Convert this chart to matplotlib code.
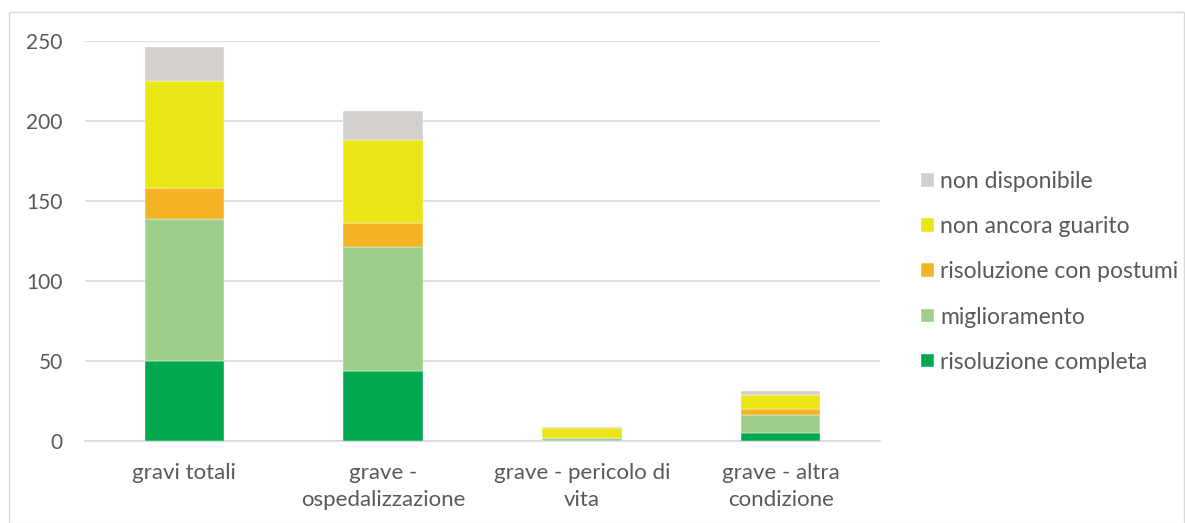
import matplotlib.pyplot as plt
from matplotlib.patches import Rectangle
import numpy as np

categories = ["gravi totali", "grave -\nospedalizzazione", "grave - pericolo di\nvita", "grave - altra\ncondizione"]
series_names = ["risoluzione completa", "miglioramento", "risoluzione con postumi", "non ancora guarito", "non disponibile"]
risoluzione_completa = [50, 44, 0, 5]
miglioramento = [89, 77, 2, 11]
risoluzione_postumi = [19, 15, 0, 4]
non_ancora_guarito = [67, 52, 6, 9]
non_disponibile = [21, 18, 1, 2]
colors = ["#00a84f", "#9bcf8a", "#f4b425", "#ece515", "#d3cfcd"]

plt.rcParams['font.family'] = ['Lato', 'DejaVu Sans']

fig = plt.figure(figsize=(11.85, 5.23), dpi=100)
ax = fig.add_axes([85 / 1185, 82 / 523, 795 / 1185, 400 / 523])

x = np.arange(len(categories))
bottom = np.zeros(len(categories))
handles = []
for name, vals, c in zip(series_names,
                         [risoluzione_completa, miglioramento, risoluzione_postumi,
                          non_ancora_guarito, non_disponibile], colors):
    b = ax.bar(x, vals, 0.4, bottom=bottom, color=c, label=name,
               edgecolor="white", linewidth=0.3, zorder=3)
    bottom += np.array(vals)
    handles.append(b)

ax.set_xlim(-0.5, 3.5)
ax.set_ylim(0, 250)
ax.set_yticks([0, 50, 100, 150, 200, 250])
ax.yaxis.grid(True, color="#d9d9d9", linewidth=1.2, zorder=0)
ax.set_axisbelow(True)
for s in ["left", "right", "top"]:
    ax.spines[s].set_visible(False)
ax.spines["bottom"].set_color("#d9d9d9")
ax.spines["bottom"].set_linewidth(1.2)
ax.tick_params(axis="both", length=0, colors="#595959")
ax.tick_params(axis="y", pad=16, labelsize=15)
ax.tick_params(axis="x", pad=16, labelsize=16)
ax.set_xticks(x)
ax.set_xticklabels(categories, linespacing=1.45)

leg = ax.legend(handles[::-1], series_names[::-1], loc="center left",
                bbox_to_anchor=(921 / 1185, 1 - 272 / 523),
                bbox_transform=fig.transFigure, frameon=False, fontsize=16.5,
                labelcolor="#595959", handlelength=0.55, handleheight=0.55,
                handletextpad=0.3, labelspacing=1.05, borderpad=0, borderaxespad=0)

fig.patches.append(Rectangle((9 / 1185, 0), 1175 / 1185, 511 / 523,
                             transform=fig.transFigure, fill=False,
                             edgecolor="#d9d9d9", linewidth=1))

fig.savefig("out.png", dpi=100)
